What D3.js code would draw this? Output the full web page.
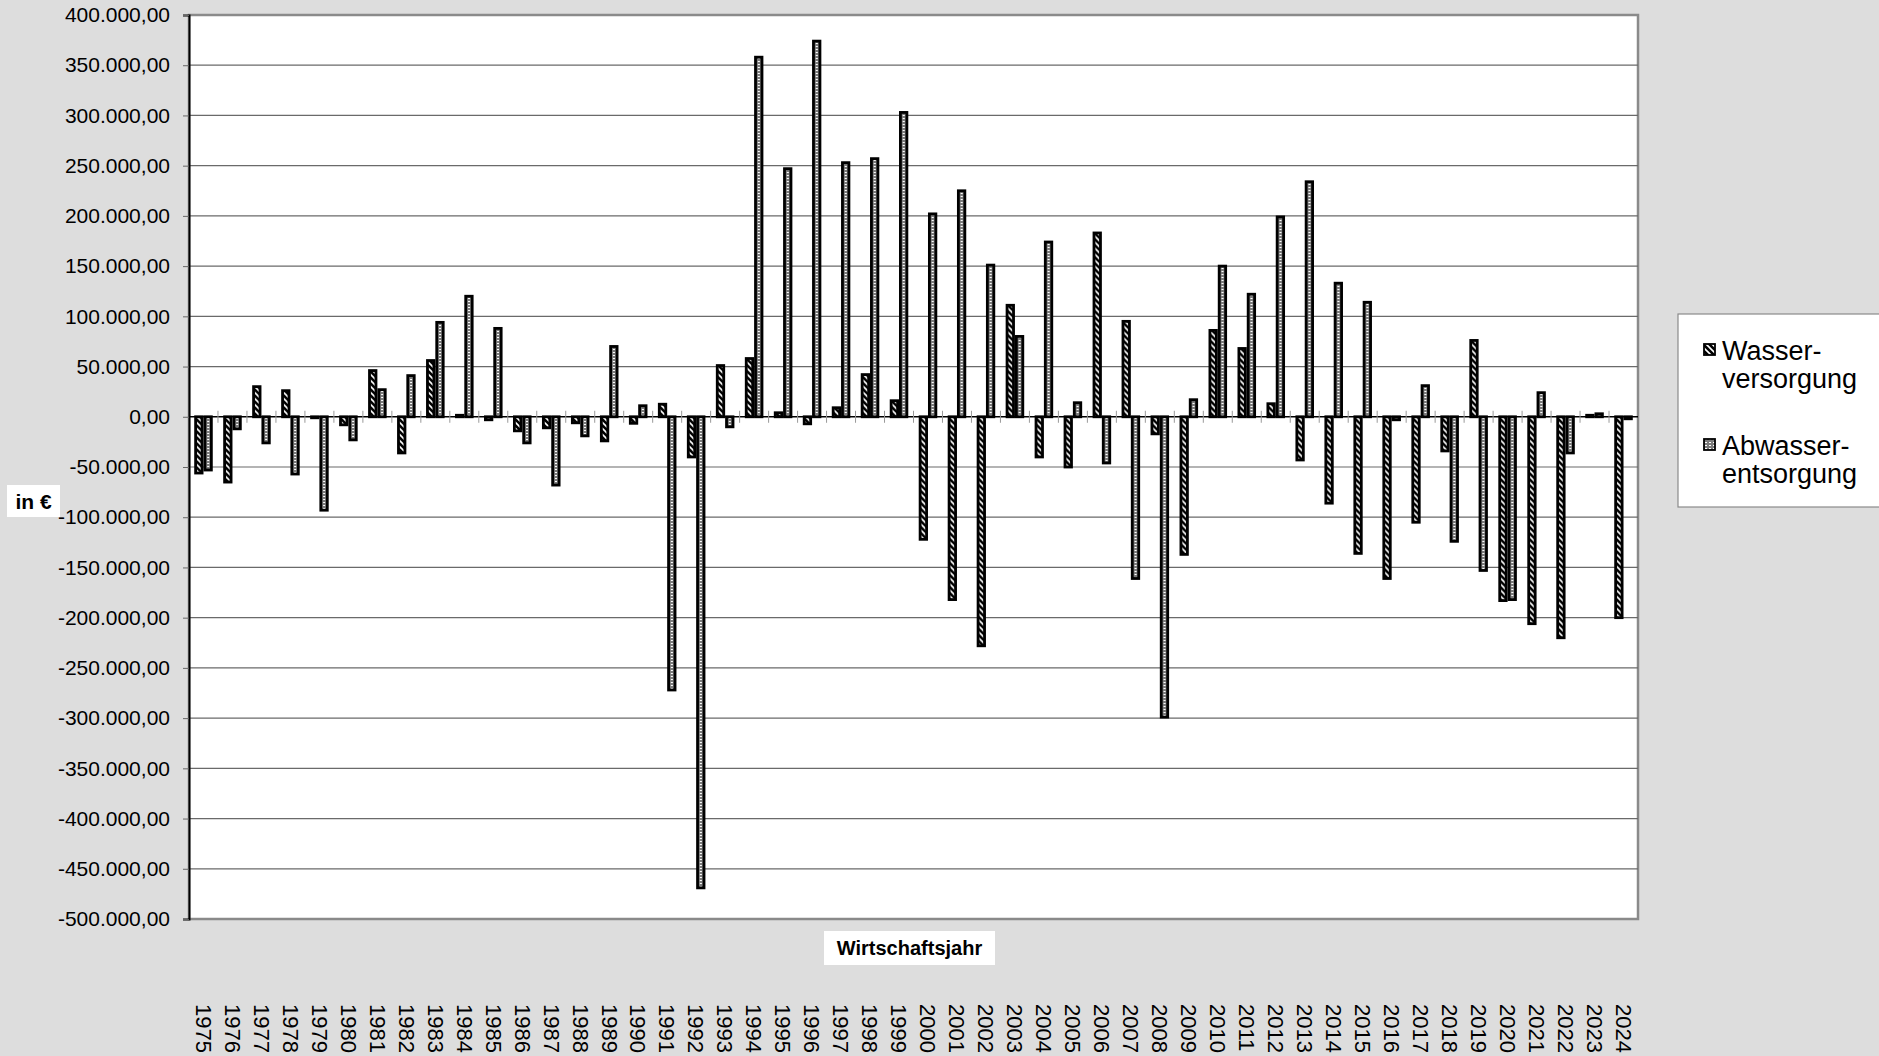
<!DOCTYPE html>
<html>
<head>
<meta charset="utf-8">
<script src="https://cdn.jsdelivr.net/npm/d3@7"></script>
<style>
  body { margin: 0; background: #dddddd; }
  svg { display: block; font-family: "Liberation Sans", Arial, sans-serif; }
</style>
</head>
<body>
<svg id="chart" width="1879" height="1056"></svg>
<script>
// Wirtschaftsjahre
const years = ["1975","1976","1977","1978","1979","1980","1981","1982","1983","1984",
  "1985","1986","1987","1988","1989","1990","1991","1992","1993","1994",
  "1995","1996","1997","1998","1999","2000","2001","2002","2003","2004",
  "2005","2006","2007","2008","2009","2010","2011","2012","2013","2014",
  "2015","2016","2017","2018","2019","2020","2021","2022","2023","2024"];

// Wasserversorgung (in €)
const wasser = [-56000,-65000,30000,26000,-1000,-8000,46000,-36000,56000,1500,
  -3000,-14000,-11000,-6000,-24000,-6500,12500,-40000,51000,58000,
  4000,-7000,9000,42000,16000,-122000,-182000,-228000,111000,-40000,
  -50000,183000,95000,-17000,-137000,86000,68000,13000,-43000,-86000,
  -136000,-161000,-105000,-34000,76000,-183000,-206000,-220000,1500,-200000];

// Abwasserentsorgung (in €)
const abwasser = [-53000,-12000,-26000,-57000,-93000,-23000,27000,41000,94000,120000,
  88000,-26000,-68000,-19000,70000,11000,-272000,-469000,-10000,358000,
  247000,374000,253000,257000,303000,202000,225000,151000,80000,174000,
  14000,-46000,-161000,-299000,17000,150000,122000,199000,234000,133000,
  114000,-3000,31000,-124000,-153000,-182000,24000,-36000,3000,-2000];

const yTicks = [400000,350000,300000,250000,200000,150000,100000,50000,0,
  -50000,-100000,-150000,-200000,-250000,-300000,-350000,-400000,-450000,-500000];

const svg = d3.select("#chart");
const plotL = 189, plotR = 1638, plotT = 15, plotB = 919;

const de = d3.formatLocale({decimal: ",", thousands: ".", grouping: [3], currency: ["", " €"], minus: "-"});
const fmt = de.format(",.2f");

const y = d3.scaleLinear().domain([-500000, 400000]).range([plotB, plotT]);
const x0 = d3.scaleBand().domain(years).range([plotL, plotR]).paddingInner(0.36).paddingOuter(0.18);
const x1 = d3.scaleBand().domain(["w","a"]).range([0, x0.bandwidth()]);

// patterns
const defs = svg.append("defs");
const pw = defs.append("pattern").attr("id","patW").attr("patternUnits","userSpaceOnUse")
  .attr("width",6).attr("height",6);
pw.append("rect").attr("width",6).attr("height",6).attr("fill","#000");
pw.append("path").attr("d","M0,0L6,6M-1,5L1,7M5,-1L7,1").attr("stroke","#fff").attr("stroke-width",1.6);

const pa = defs.append("pattern").attr("id","patA").attr("patternUnits","userSpaceOnUse")
  .attr("width",4).attr("height",3);
pa.append("rect").attr("width",4).attr("height",3).attr("fill","#7c7c7c");
pa.append("rect").attr("x",1).attr("y",1).attr("width",2).attr("height",1).attr("fill","#fff");

// plot area
svg.append("rect").attr("x",plotL).attr("y",plotT).attr("width",plotR-plotL).attr("height",plotB-plotT)
  .attr("fill","#fff").attr("stroke","#8a8a8a").attr("stroke-width",2.5);

// gridlines
svg.append("g").selectAll("line").data(yTicks.filter(d => d !== 0 && d !== 400000 && d !== -500000)).join("line")
  .attr("x1",plotL).attr("x2",plotR).attr("y1",d => y(d)).attr("y2",d => y(d))
  .attr("stroke","#6a6a6a").attr("stroke-width",1.2);

// y axis
const yAxis = svg.append("g").attr("transform",`translate(${plotL},0)`)
  .call(d3.axisLeft(y).tickValues(yTicks).tickFormat(fmt).tickSize(6).tickPadding(13));
yAxis.select(".domain").attr("stroke","#000").attr("stroke-width",2);
yAxis.selectAll(".tick line").attr("stroke","#666");
yAxis.selectAll("text").attr("font-size",21).attr("fill","#000")
  .attr("font-family","'Liberation Sans', Arial, sans-serif");

// bars
const rows = years.map((yr, i) => ({year: yr, w: wasser[i], a: abwasser[i]}));
const sw = 2.8;
const groups = svg.append("g").selectAll("g").data(rows).join("g")
  .attr("transform", d => `translate(${x0(d.year)},0)`);
groups.selectAll("rect").data(d => [{k:"w", v:d.w}, {k:"a", v:d.a}]).join("rect")
  .attr("x", d => x1(d.k) + sw/2)
  .attr("width", x1.bandwidth() - sw)
  .attr("y", d => Math.min(y(d.v), y(0)))
  .attr("height", d => Math.max(0.5, Math.abs(y(d.v) - y(0))))
  .attr("fill", d => d.k === "w" ? "url(#patW)" : "url(#patA)")
  .attr("stroke","#000").attr("stroke-width",sw);

// zero axis with category ticks
const zeroY = y(0);
svg.append("line").attr("x1",plotL).attr("x2",plotR).attr("y1",zeroY).attr("y2",zeroY)
  .attr("stroke","#000").attr("stroke-width",1.5);
const bounds = years.map((yr) => x0(yr) - x0.step() * x0.paddingInner() / 2);
svg.append("g").selectAll("line").data(bounds.slice(1)).join("line")
  .attr("x1",d => d).attr("x2",d => d).attr("y1",zeroY - 6).attr("y2",zeroY + 6)
  .attr("stroke","#999").attr("stroke-width",1);

// x labels (rotated)
svg.append("g").selectAll("text").data(years).join("text")
  .attr("transform", d => `translate(${x0(d) + x0.bandwidth()/2},1004) rotate(90)`)
  .attr("dy","0.35em").attr("text-anchor","start").attr("font-size",22).attr("fill","#000")
  .text(d => d);

// axis titles
svg.append("rect").attr("x",824).attr("y",931).attr("width",171).attr("height",34).attr("fill","#fff");
svg.append("text").attr("x",909.5).attr("y",955).attr("text-anchor","middle")
  .attr("font-weight","bold").attr("font-size",20).text("Wirtschaftsjahr");

svg.append("rect").attr("x",7).attr("y",485).attr("width",53).attr("height",32).attr("fill","#fff");
svg.append("text").attr("x",33.5).attr("y",509).attr("text-anchor","middle")
  .attr("font-weight","bold").attr("font-size",21).text("in €");

// legend
const lg = svg.append("g");
lg.append("rect").attr("x",1678).attr("y",314).attr("width",215).attr("height",193)
  .attr("fill","#fff").attr("stroke","#8a8a8a").attr("stroke-width",1.2);
const legendRows = [
  {pat:"url(#patW)", sy:344, lines:["Wasser-","versorgung"], by:360},
  {pat:"url(#patA)", sy:439, lines:["Abwasser-","entsorgung"], by:455}
];
legendRows.forEach((r) => {
  lg.append("rect").attr("x",1704).attr("y",r.sy).attr("width",11).attr("height",11)
    .attr("fill",r.pat).attr("stroke","#000").attr("stroke-width",1.8);
  lg.append("text").attr("x",1722).attr("y",r.by).attr("font-size",27).text(r.lines[0]);
  lg.append("text").attr("x",1722).attr("y",r.by + 28).attr("font-size",27).text(r.lines[1]);
});
</script>
</body>
</html>
